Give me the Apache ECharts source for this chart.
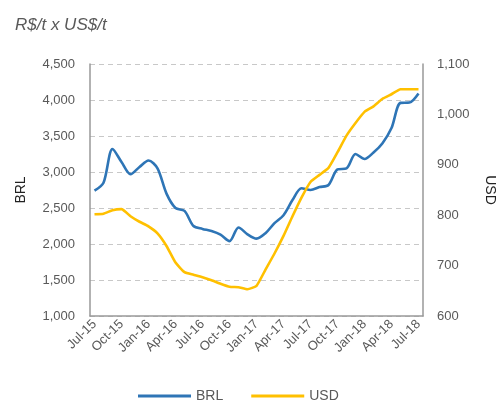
<!DOCTYPE html>
<html><head><meta charset="utf-8">
<script src="https://cdn.jsdelivr.net/npm/echarts@6/dist/echarts.min.js"></script>
<style>html,body{margin:0;padding:0;background:#fff}#c{width:499px;height:403px}</style>
</head><body><div id="c"></div>
<script>
var categories = ["Jul-15","Aug-15","Sep-15","Oct-15","Nov-15","Dec-15","Jan-16","Feb-16","Mar-16","Apr-16","May-16","Jun-16","Jul-16","Aug-16","Sep-16","Oct-16","Nov-16","Dec-16","Jan-17","Feb-17","Mar-17","Apr-17","May-17","Jun-17","Jul-17","Aug-17","Sep-17","Oct-17","Nov-17","Dec-17","Jan-18","Feb-18","Mar-18","Apr-18","May-18","Jun-18","Jul-18"];
var brl = [2740,2850,3320,3140,2970,3070,3160,3050,2700,2500,2460,2250,2210,2180,2130,2040,2230,2135,2075,2150,2290,2400,2610,2775,2750,2790,2820,3035,3050,3250,3180,3270,3400,3610,3960,3965,4090];
var usd = [802,803,810,812,798,787,778,764,739,706,687,682,677,671,664,658,657,653,660,692,724,759,798,835,866,880,894,925,958,983,1005,1016,1031,1040,1050,1050,1050];
var titleText = "R$/t x US$/t";
var font = "Liberation Sans";
var txt = "#595959";
var chart = echarts.init(document.getElementById('c'));
chart.setOption({
  animation: false,
  textStyle: {fontFamily: font},
  title: {text: titleText, left: 10, top: 12, textStyle: {fontFamily: font, fontStyle: 'italic', fontWeight: 'normal', fontSize: 17, color: txt}},
  grid: {left: 90, right: 76, top: 64, bottom: 87, containLabel: false, outerBoundsMode: 'none'},
  legend: {top: 384, left: 133, itemWidth: 53, itemHeight: 3, itemGap: 28, icon: 'rect',
    textStyle: {fontFamily: font, fontSize: 14, color: txt},
    data: ['BRL','USD']},
  xAxis: {type: 'category', data: categories, boundaryGap: true,
    axisLine: {show: true, lineStyle: {color: '#999999', width: 1.5}},
    axisTick: {show: false},
    axisLabel: {interval: 2, rotate: 45, fontSize: 13, color: txt, fontFamily: font, margin: 6}},
  yAxis: [
    {type: 'value', min: 1000, max: 4500, interval: 500, name: 'BRL', nameLocation: 'middle', nameGap: 62,
     nameTextStyle: {fontFamily: font, fontSize: 14, color: '#222'},
     axisLine: {show: true, lineStyle: {color: '#999999', width: 1.5}}, axisTick: {show: false},
     axisLabel: {fontSize: 13, color: txt, fontFamily: font, margin: 15, formatter: function(v){return v.toLocaleString('en-US');}},
     splitLine: {show: true, lineStyle: {color: '#c8c8c8', type: [5, 4], width: 1.2}}},
    {type: 'value', min: 600, max: 1100, interval: 100, name: 'USD', nameLocation: 'middle', nameGap: 60, nameRotate: -90,
     nameTextStyle: {fontFamily: font, fontSize: 14, color: '#222'},
     axisLine: {show: true, lineStyle: {color: '#999999', width: 1.5}}, axisTick: {show: false},
     axisLabel: {fontSize: 13, color: txt, fontFamily: font, margin: 14, formatter: function(v){return v.toLocaleString('en-US');}},
     splitLine: {show: false}}
  ],
  series: [
    {name: 'BRL', type: 'line', yAxisIndex: 0, data: brl, smooth: 0.3, showSymbol: false, symbol: 'none',
     lineStyle: {color: '#2E75B6', width: 2.6}, itemStyle: {color: '#2E75B6'}},
    {name: 'USD', type: 'line', yAxisIndex: 1, data: usd, smooth: 0.15, showSymbol: false, symbol: 'none',
     lineStyle: {color: '#FFC000', width: 2.6}, itemStyle: {color: '#FFC000'}}
  ]
});
</script></body></html>
